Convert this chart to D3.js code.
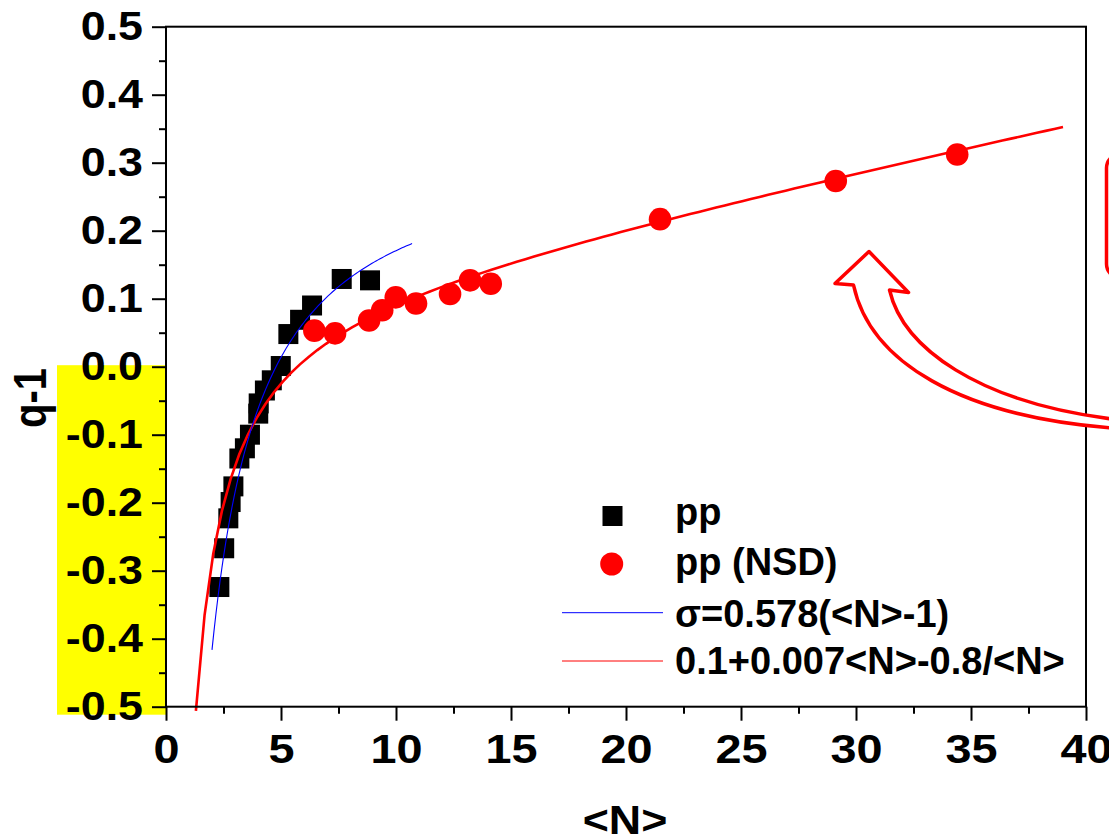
<!DOCTYPE html>
<html>
<head>
<meta charset="utf-8">
<script src="https://cdn.jsdelivr.net/npm/d3@7"></script>
<style>
  body { margin: 0; background: #fff; }
  svg { display: block; }
  text { font-family: "Liberation Sans", Arial, sans-serif; font-weight: bold; fill: #000; }
</style>
</head>
<body>
<svg id="chart" width="1109" height="838"></svg>
<script>
// pp data: mean multiplicity <N> and q-1
const ppN = [8.87, 7.64, 6.35, 5.83, 5.32, 4.99, 4.60, 4.30, 4.03, 4.01, 3.65, 3.43, 3.19, 2.93, 2.81, 2.71, 2.53, 2.32];
const ppQ = [0.127, 0.129, 0.090, 0.069, 0.048, 0.001, -0.020, -0.035, -0.054, -0.069, -0.100, -0.120, -0.135, -0.176, -0.199, -0.223, -0.267, -0.324];

// pp (NSD) data
const nsdN = [6.45, 7.35, 8.83, 9.40, 9.99, 10.87, 12.35, 13.22, 14.12, 21.48, 29.12, 34.40];
const nsdQ = [0.053, 0.049, 0.068, 0.083, 0.102, 0.093, 0.107, 0.127, 0.122, 0.217, 0.273, 0.312];

// axis ticks
const xTicks = [0, 5, 10, 15, 20, 25, 30, 35, 40];
const xMinor = [2.5, 7.5, 12.5, 17.5, 22.5, 27.5, 32.5, 37.5];
const yTicks = [-0.5, -0.4, -0.3, -0.2, -0.1, 0.0, 0.1, 0.2, 0.3, 0.4, 0.5];
const yMinor = [-0.45, -0.35, -0.25, -0.15, -0.05, 0.05, 0.15, 0.25, 0.35, 0.45];

// fit curves: q-1 = a + b<N> - c/<N>, and sigma = s(<N>-1) with q-1 = sigma^2/<N>^2 - 1/<N>
const redFit = { a: 0.1, b: 0.007, c: 0.8, from: 1.3, to: 39, samples: 100 };
const blueFit = { s: 0.578, from: 2, to: 10.7, samples: 100 };

const legendLabels = ["pp", "pp (NSD)", "\u03c3=0.578(<N>-1)", "0.1+0.007<N>-0.8/<N>"];

const svg = d3.select("#chart");
const W = 1109, H = 838;
const plot = { left: 166, right: 1086, top: 26.7, bottom: 706.7 };
const wide = 1.12; // horizontal stretch of the axis lettering

const x = d3.scaleLinear().domain([0, 40]).range([plot.left, plot.right]);
const y = d3.scaleLinear().domain([-0.5, 0.5]).range([plot.bottom, plot.top]);

svg.append("rect").attr("width", W).attr("height", H).attr("fill", "#fff");

// yellow highlight behind the negative tick labels
svg.append("rect")
  .attr("x", 57).attr("y", y(0) - 1.5)
  .attr("width", plot.left - 57).attr("height", y(-0.5) + 8 - y(0) + 1.5)
  .attr("fill", "#ffff00");

// fit curve samples
function sampleRange(f) {
  return d3.range(f.samples + 1).map(i => f.from + (f.to - f.from) * i / f.samples);
}
const redPts = sampleRange(redFit).map(n => [n, redFit.a + redFit.b * n - redFit.c / n]);
const bluePts = sampleRange(blueFit).map(n => [n, (blueFit.s * (n - 1)) ** 2 / (n * n) - 1 / n]);

const line = d3.line().x(d => x(d[0])).y(d => y(d[1]));

// pp squares
const sq = 20;
svg.append("g").selectAll("rect").data(d3.zip(ppN, ppQ)).join("rect")
  .attr("x", d => x(d[0]) - sq / 2).attr("y", d => y(d[1]) - sq / 2)
  .attr("width", sq).attr("height", sq).attr("fill", "#000");

// pp (NSD) circles
svg.append("g").selectAll("circle").data(d3.zip(nsdN, nsdQ)).join("circle")
  .attr("cx", d => x(d[0])).attr("cy", d => y(d[1])).attr("r", 11.3).attr("fill", "#ff0000");

svg.append("path").datum(redPts).attr("d", line)
  .attr("fill", "none").attr("stroke", "#ff0000").attr("stroke-width", 2.6);
svg.append("path").datum(bluePts).attr("d", line)
  .attr("fill", "none").attr("stroke", "#0000ff").attr("stroke-width", 1.1);

// axes
function styleAxis(g) {
  g.select(".domain").remove();
  g.selectAll(".tick line").attr("stroke", "#000").attr("stroke-width", 2);
  g.selectAll("text").style("font-size", "40px").attr("fill", "#000");
}
svg.append("g").attr("transform", `translate(${plot.left},0)`)
  .call(d3.axisLeft(y).tickValues(yTicks).tickSize(14).tickPadding(9).tickFormat(d => d.toFixed(1)))
  .call(styleAxis)
  .call(g => g.selectAll(".tick text").attr("x", -23 / wide).attr("transform", `scale(${wide},1)`));
svg.append("g").attr("transform", `translate(${plot.left},0)`)
  .call(d3.axisLeft(y).tickValues(yMinor).tickSize(7).tickFormat(""))
  .call(styleAxis);
svg.append("g").attr("transform", `translate(0,${plot.bottom})`)
  .call(d3.axisBottom(x).tickValues(xTicks).tickSize(14).tickPadding(14).tickFormat(d => String(d)))
  .call(styleAxis)
  .call(g => g.selectAll(".tick text").attr("transform", `scale(${wide + 0.05},1)`));
svg.append("g").attr("transform", `translate(0,${plot.bottom})`)
  .call(d3.axisBottom(x).tickValues(xMinor).tickSize(7).tickFormat(""))
  .call(styleAxis);

// frame
svg.append("rect")
  .attr("x", plot.left).attr("y", plot.top)
  .attr("width", plot.right - plot.left).attr("height", plot.bottom - plot.top)
  .attr("fill", "none").attr("stroke", "#000").attr("stroke-width", 2);

// axis titles
svg.append("text").attr("transform", `translate(46,398) rotate(-90) scale(1,${wide + 0.03})`)
  .attr("text-anchor", "middle").style("font-size", "40px").text("q-1");
svg.append("text").attr("transform", `translate(625,834) scale(${wide},1)`)
  .attr("text-anchor", "middle").style("font-size", "40px").text("<N>");

// legend
const lg = svg.append("g");
const lgX = 675, lgRows = [525, 575, 627, 674];
lg.append("rect").attr("x", 602.5).attr("y", 506).attr("width", 20).attr("height", 20).attr("fill", "#000");
lg.append("circle").attr("cx", 611.7).attr("cy", 564).attr("r", 11.5).attr("fill", "#ff0000");
lg.append("line").attr("x1", 562).attr("x2", 663).attr("y1", 612.7).attr("y2", 612.7)
  .attr("stroke", "#0000ff").attr("stroke-width", 1);
lg.append("line").attr("x1", 562).attr("x2", 663).attr("y1", 661).attr("y2", 661)
  .attr("stroke", "#ff0000").attr("stroke-width", 1);
lg.selectAll("text").data(legendLabels).join("text")
  .attr("x", lgX).attr("y", (d, i) => lgRows[i]).style("font-size", "38px").text(d => d);

// curved pointer arrow coming in from the right edge
const arrow = d3.path();
arrow.moveTo(869, 251.5);
arrow.lineTo(908.5, 292.5);
arrow.lineTo(889.5, 290);
arrow.bezierCurveTo(903, 348, 978, 402, 1112, 419);
arrow.lineTo(1112, 428);
arrow.bezierCurveTo(960, 416, 870, 362, 853.5, 285);
arrow.lineTo(835, 283.5);
arrow.closePath();
svg.append("path").attr("d", arrow.toString())
  .attr("fill", "#fff").attr("stroke", "#ff0000").attr("stroke-width", 3.5)
  .attr("stroke-linejoin", "round");

// partially visible callout box at the right edge
svg.append("rect").attr("x", 1106.5).attr("y", 154).attr("width", 120).attr("height", 124)
  .attr("rx", 14).attr("fill", "none").attr("stroke", "#ff0000").attr("stroke-width", 3.5);
</script>
</body>
</html>
